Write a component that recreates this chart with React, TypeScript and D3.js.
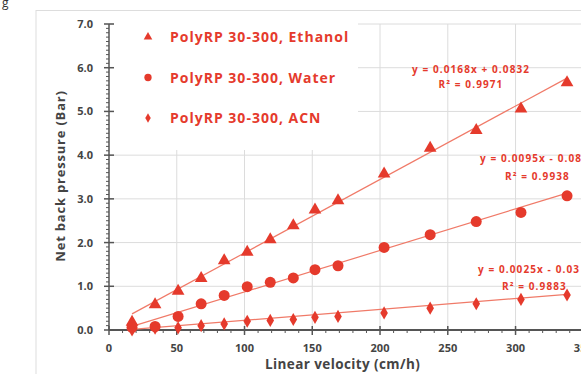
import React from "react";
import * as d3 from "d3";

const velocity = [17, 34, 51, 68, 85, 102, 119, 136, 152, 169, 203, 237, 271, 304, 338];
const ethanol = [0.18, 0.58, 0.89, 1.18, 1.59, 1.78, 2.07, 2.39, 2.75, 2.96, 3.57, 4.16, 4.57, 5.06, 5.66];
const water = [0.06, 0.08, 0.31, 0.6, 0.79, 0.99, 1.09, 1.19, 1.38, 1.47, 1.89, 2.18, 2.48, 2.69, 3.07];
const acn = [0.0, 0.04, 0.05, 0.1, 0.14, 0.2, 0.22, 0.24, 0.29, 0.31, 0.39, 0.5, 0.6, 0.7, 0.8];

const seriesNames = ["PolyRP 30-300, Ethanol", "PolyRP 30-300, Water", "PolyRP 30-300, ACN"];
const slopes = [0.0168, 0.0095, 0.0025];
const intercepts = [0.0832, -0.08, -0.03];
const eqLabels = ["y = 0.0168x + 0.0832", "y = 0.0095x - 0.08", "y = 0.0025x - 0.03"];
const r2Labels = ["R² = 0.9971", "R² = 0.9938", "R² = 0.9883"];
const xTicks = [0, 50, 100, 150, 200, 250, 300, 350];
const yTicks = [0, 1, 2, 3, 4, 5, 6, 7];

const RED = "#e53a2c";
const TREND = "#f07a68";
const FONT = "'Open Sans', 'Liberation Sans', sans-serif";

export default function App() {
  const W = 581, H = 374;
  const x = d3.scaleLinear().domain([0, 350]).range([109, 583.3]);
  const y = d3.scaleLinear().domain([0, 7]).range([330, 24]);
  const seriesData = [ethanol, water, acn];
  const symbols = [d3.symbolTriangle, d3.symbolCircle, d3.symbolDiamond];
  const sizes = [70, 95, 50];
  const legendSizes = [32, 42, 26];
  const line = d3.line<number>().x((d) => x(d[0])).y((d) => y(d[1]));

  const minorY = d3.range(0, 70).map((i) => i / 10).filter((v) => Math.abs(v - Math.round(v)) > 1e-6);
  const minorX = d3.range(0, 36).map((i) => i * 10).filter((v) => v % 50 !== 0);

  const eqPos = [
    { x: 471, x2: 471, anchor: "middle", y1: 73, y2: 88 },
    { x: 480, x2: 505, anchor: "start", y1: 162, y2: 180 },
    { x: 478, x2: 502, anchor: "start", y1: 273, y2: 290 },
  ];

  return (
    <svg width={W} height={H} style={{ position: "absolute", left: 0, top: 0, background: "#fff" }} fontFamily={FONT}>
      <text x={2} y={7} fontSize={12} fill="#333">g</text>
      <rect x={36} y={10.5} width={600} height={400} fill="#fff" stroke="#ddd" strokeWidth={1} />
      {/* gridlines */}
      {yTicks.filter((t) => t > 0).map((t) => (
        <line key={"gy" + t} x1={x(0)} x2={W} y1={y(t)} y2={y(t)} stroke="#dcdcdc" strokeWidth={1} />
      ))}
      {xTicks.filter((t) => t > 0).map((t) => (
        <line key={"gx" + t} x1={x(t)} x2={x(t)} y1={y(7)} y2={y(0)} stroke="#dcdcdc" strokeWidth={1} />
      ))}
      {/* legend box */}
      <rect x={114} y={20} width={244} height={130} fill="#fff" />
      {/* axes */}
      <line x1={x(0)} x2={x(0)} y1={y(7)} y2={y(0)} stroke="#555" strokeWidth={1.5} />
      <line x1={x(0)} x2={W} y1={y(0)} y2={y(0)} stroke="#555" strokeWidth={2} />
      {minorY.map((t) => (
        <line key={"my" + t} x1={x(0) - 3} x2={x(0)} y1={y(t)} y2={y(t)} stroke="#555" strokeWidth={1} />
      ))}
      {yTicks.map((t) => (
        <g key={"ty" + t}>
          <line x1={x(0) - 5} x2={x(0) + 5} y1={y(t)} y2={y(t)} stroke="#555" strokeWidth={1.5} />
          <text x={93} y={y(t) + 4} textAnchor="end" fontSize={11} fontWeight="bold" fill="#444">{t.toFixed(1)}</text>
        </g>
      ))}
      {minorX.map((t) => (
        <line key={"mx" + t} x1={x(t)} x2={x(t)} y1={y(0)} y2={y(0) + 3} stroke="#555" strokeWidth={1} />
      ))}
      {xTicks.map((t) => (
        <g key={"tx" + t}>
          <line x1={x(t)} x2={x(t)} y1={y(0) - 4} y2={y(0) + 5} stroke="#555" strokeWidth={1.5} />
          <text x={x(t)} y={352} textAnchor="middle" fontSize={11} fontWeight="bold" fill="#444">{t}</text>
        </g>
      ))}
      <text x={265} y={369} textAnchor="start" fontSize={13.5} fontWeight="bold" letterSpacing={0.4} fill="#444">Linear velocity (cm/h)</text>
      <text transform={`translate(65,176) rotate(-90)`} textAnchor="middle" fontSize={13} fontWeight="bold" letterSpacing={0.8} fill="#444">Net back pressure (Bar)</text>
      {/* trend lines */}
      {slopes.map((m, i) => {
        const xs = [velocity[0], velocity[velocity.length - 1]];
        const pts = xs.map((v) => [v, m * v + intercepts[i]] as [number, number]);
        return <path key={"tr" + i} d={line(pts as any) || ""} stroke={TREND} strokeWidth={1.2} fill="none" />;
      })}
      {/* markers */}
      {seriesData.map((s, i) =>
        s.map((v, j) => (
          <path
            key={"m" + i + "-" + j}
            d={d3.symbol().type(symbols[i]).size(sizes[i])() || ""}
            transform={`translate(${x(velocity[j])},${y(v)})`}
            fill={RED}
          />
        ))
      )}
      {/* equation labels */}
      {eqLabels.map((l, i) => (
        <g key={"eq" + i} fontSize={10} fontWeight="bold" letterSpacing={1.1} fill={RED}>
          <text x={eqPos[i].x} y={eqPos[i].y1} textAnchor={eqPos[i].anchor}>{l}</text>
          <text x={eqPos[i].x2} y={eqPos[i].y2} textAnchor={eqPos[i].anchor}>{r2Labels[i]}</text>
        </g>
      ))}
      {/* legend */}
      {seriesNames.map((n, i) => (
        <g key={"lg" + i} transform={`translate(148,${37 + i * 40.5})`}>
          <path d={d3.symbol().type(symbols[i]).size(legendSizes[i])() || ""} fill={RED} />
          <text x={22} y={5} fontSize={14} fontWeight="bold" letterSpacing={1} fill={RED}>{n}</text>
        </g>
      ))}
    </svg>
  );
}
